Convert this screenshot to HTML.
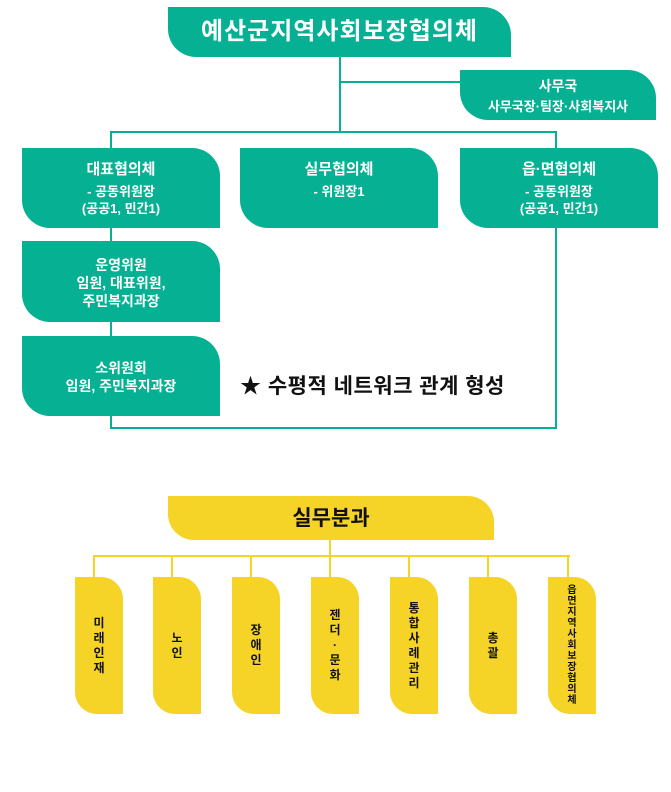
<!DOCTYPE html>
<html><head><meta charset="utf-8"><style>
body{margin:0;width:671px;height:792px;background:#fff;position:relative;overflow:hidden;font-family:"Liberation Sans","Noto Sans CJK KR",sans-serif;}
.a{position:absolute;}
.t{background:#06b093;color:#fff;font-weight:bold;text-align:center;border-radius:0 28px 0 28px;box-sizing:border-box;}
.l{background:#06b093;position:absolute;}
.y{background:#f5d327;position:absolute;}
.yb{background:#f5d327;border-radius:0 22px 0 22px;font-weight:bold;color:#111;font-size:12px;line-height:15px;display:flex;align-items:center;justify-content:center;text-align:center;}
</style></head><body>
<div class="l" style="left:339px;top:57px;width:2px;height:76px"></div>
<div class="l" style="left:340px;top:81px;width:122px;height:2px"></div>
<div class="l" style="left:110px;top:131px;width:447px;height:2px"></div>
<div class="l" style="left:110px;top:131px;width:2px;height:298px"></div>
<div class="l" style="left:555px;top:131px;width:2px;height:298px"></div>
<div class="l" style="left:110px;top:427px;width:447px;height:2px"></div>

<div class="a t" style="left:168px;top:7px;width:343px;height:50px;font-size:24px;letter-spacing:1px;line-height:50px">예산군지역사회보장협의체</div>
<div class="a t" style="left:460px;top:70px;width:196px;height:50px;font-size:14px;padding-top:6px;line-height:20px">사무국<br><span style="font-size:13px">사무국장·팀장·사회복지사</span></div>

<div class="a t" style="left:22px;top:148px;width:198px;height:80px;font-size:15px;padding-top:12px;line-height:19px">대표협의체<br><span style="font-size:13px;line-height:17px;display:inline-block;margin-top:4px">- 공동위원장<br>(공공1, 민간1)</span></div>
<div class="a t" style="left:240px;top:148px;width:198px;height:80px;font-size:15px;padding-top:12px;line-height:19px">실무협의체<br><span style="font-size:13px;line-height:17px;display:inline-block;margin-top:4px">- 위원장1</span></div>
<div class="a t" style="left:460px;top:148px;width:198px;height:80px;font-size:15px;padding-top:12px;line-height:19px">읍·면협의체<br><span style="font-size:13px;line-height:17px;display:inline-block;margin-top:4px">- 공동위원장<br>(공공1, 민간1)</span></div>

<div class="a t" style="left:22px;top:241px;width:198px;height:81px;font-size:14px;padding-top:15px;line-height:18px">운영위원<br>임원, 대표위원,<br>주민복지과장</div>
<div class="a t" style="left:22px;top:336px;width:198px;height:80px;font-size:14px;padding-top:23px;line-height:18px">소위원회<br>임원, 주민복지과장</div>

<div class="a" style="left:240px;top:370px;font-size:21px;letter-spacing:0.5px;font-weight:bold;color:#111;white-space:nowrap">★ 수평적 네트워크 관계 형성</div>

<div class="y" style="left:329px;top:540px;width:2px;height:17px"></div>
<div class="y" style="left:93px;top:555px;width:477px;height:2px"></div>
<div class="y" style="left:93px;top:555px;width:2px;height:23px"></div>
<div class="y" style="left:171px;top:555px;width:2px;height:23px"></div>
<div class="y" style="left:250px;top:555px;width:2px;height:23px"></div>
<div class="y" style="left:329px;top:555px;width:2px;height:23px"></div>
<div class="y" style="left:408px;top:555px;width:2px;height:23px"></div>
<div class="y" style="left:487px;top:555px;width:2px;height:23px"></div>
<div class="y" style="left:567px;top:555px;width:2px;height:23px"></div>

<div class="a yb" style="left:168px;top:496px;width:326px;height:44px;font-size:21px;border-radius:0 26px 0 26px">실무분과</div>
<div class="a yb" style="left:75px;top:577px;width:48px;height:137px">미<br>래<br>인<br>재</div>
<div class="a yb" style="left:153px;top:577px;width:48px;height:137px">노<br>인</div>
<div class="a yb" style="left:232px;top:577px;width:48px;height:137px">장<br>애<br>인</div>
<div class="a yb" style="left:311px;top:577px;width:48px;height:137px">젠<br>더<br>·<br>문<br>화</div>
<div class="a yb" style="left:390px;top:577px;width:48px;height:137px">통<br>합<br>사<br>례<br>관<br>리</div>
<div class="a yb" style="left:469px;top:577px;width:48px;height:137px">총<br>괄</div>
<div class="a yb" style="left:548px;top:577px;width:48px;height:137px;font-size:10px;line-height:11px">읍<br>면<br>지<br>역<br>사<br>회<br>보<br>장<br>협<br>의<br>체</div>
</body></html>
